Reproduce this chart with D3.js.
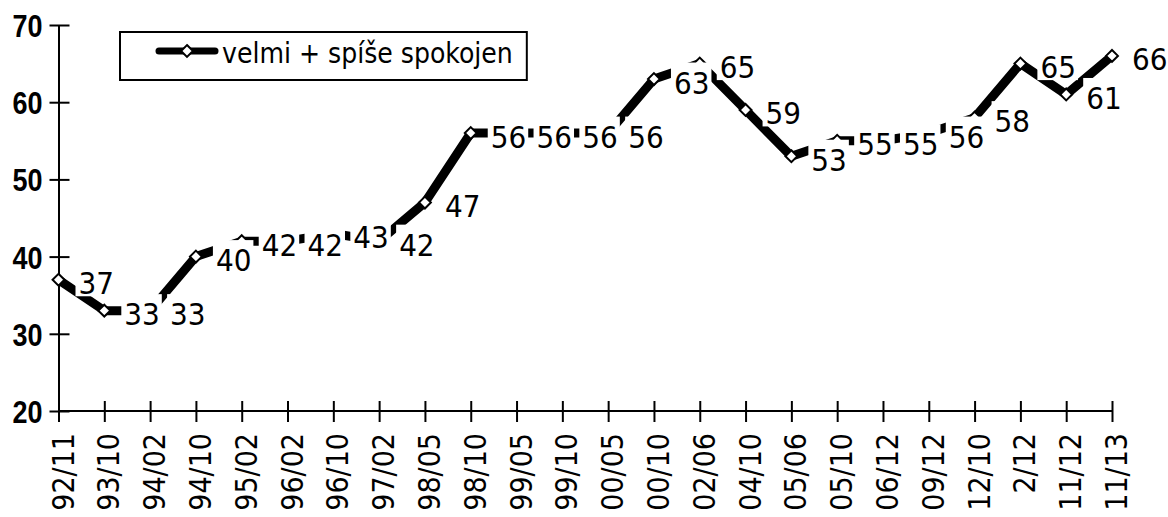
<!DOCTYPE html>
<html>
<head>
<meta charset="utf-8">
<script src="https://cdn.jsdelivr.net/npm/d3@7"></script>
<style>
  html, body { margin: 0; padding: 0; background: #fff; }
  svg { display: block; }
</style>
</head>
<body>
<svg id="chart" width="1168" height="517"></svg>
<script>
const categories = ["92/11","93/10","94/02","94/10","95/02","96/02","96/10","97/02","98/05","98/10","99/05","99/10","00/05","00/10","02/06","04/10","05/06","05/10","06/12","09/12","12/10","2/12","11/12","11/13"];
const values = [37,33,33,40,42,42,43,42,47,56,56,56,56,63,65,59,53,55,55,56,58,65,61,66];
const yTicks = [20,30,40,50,60,70];
const seriesName = "velmi + spíše spokojen";

const svg = d3.select("#chart");
const labelFont = "'DejaVu Sans Condensed', 'DejaVu Sans', sans-serif";

const x = d3.scalePoint().domain(categories).range([58.5, 1112]);
const y = d3.scaleLinear().domain([20, 70]).range([411, 25]);

// Y axis
const gy = svg.append("g").attr("transform", "translate(58.5,0)")
  .call(d3.axisLeft(y).tickValues(yTicks).tickSizeInner(9).tickSizeOuter(0).tickPadding(7).tickFormat(d3.format("d")));
gy.select(".domain").attr("stroke", "#000").attr("stroke-width", 2);
gy.selectAll(".tick line").attr("x1", 11).attr("x2", -9).attr("stroke", "#000").attr("stroke-width", 2);
gy.selectAll(".tick text")
  .attr("font-family", "'Liberation Sans', Arial, sans-serif")
  .attr("font-weight", "bold")
  .attr("font-size", 32)
  .attr("fill", "#000")
  .attr("textLength", 30)
  .attr("lengthAdjust", "spacingAndGlyphs")
  .attr("dy", "0.36em");

// X axis
const gx = svg.append("g").attr("transform", "translate(0,411)")
  .call(d3.axisBottom(x).tickSizeInner(10).tickSizeOuter(0));
gx.select(".domain").attr("stroke", "#000").attr("stroke-width", 2).attr("d", `M${x.range()[0]},0H${x.range()[1]}`);
gx.selectAll(".tick line").attr("y1", -10).attr("y2", 11).attr("stroke", "#000").attr("stroke-width", 2);
gx.selectAll(".tick text")
  .attr("font-family", labelFont)
  .attr("font-size", 30)
  .attr("fill", "#000")
  .attr("text-anchor", "end")
  .attr("transform", "rotate(-90)")
  .attr("x", -22)
  .attr("y", 14.5)
  .attr("dy", 0);

// Line
const pts = categories.map((c, i) => ({c, v: values[i]}));
svg.append("path")
  .datum(pts)
  .attr("fill", "none")
  .attr("stroke", "#000")
  .attr("stroke-width", 9)
  .attr("stroke-linejoin", "round")
  .attr("stroke-linecap", "round")
  .attr("d", d3.line().x(d => x(d.c)).y(d => y(d.v)));

// Markers
const diamond = d3.symbol().type(d3.symbolDiamond2).size(90);
svg.append("g").selectAll("path")
  .data(pts).join("path")
  .attr("transform", d => `translate(${x(d.c)},${y(d.v)})`)
  .attr("d", diamond)
  .attr("fill", "#fff")
  .attr("stroke", "#000")
  .attr("stroke-width", 2);

// Data labels with white boxes
const lg = svg.append("g");
pts.forEach(d => {
  const px = x(d.c), py = y(d.v);
  const g = lg.append("g");
  const r = g.append("rect").attr("fill", "#fff");
  const t = g.append("text")
    .attr("x", px + 20)
    .attr("y", py + 14.5)
    .attr("font-family", labelFont)
    .attr("font-size", 31)
    .attr("fill", "#000")
    .text(d.v);
  const w = t.node().getComputedTextLength();
  r.attr("x", px + 17).attr("y", py - 16.5).attr("width", w + 5).attr("height", 33);
});

// Legend
const leg = svg.append("g");
const legBox = leg.append("rect")
  .attr("x", 120).attr("y", 32).attr("height", 48)
  .attr("fill", "#fff").attr("stroke", "#000").attr("stroke-width", 2);
leg.append("line")
  .attr("x1", 159).attr("x2", 215).attr("y1", 51).attr("y2", 51)
  .attr("stroke", "#000").attr("stroke-width", 7).attr("stroke-linecap", "round");
leg.append("path")
  .attr("transform", "translate(187,51)")
  .attr("d", diamond)
  .attr("fill", "#fff").attr("stroke", "#000").attr("stroke-width", 2);
const legText = leg.append("text")
  .attr("x", 222).attr("y", 63)
  .attr("font-family", labelFont)
  .attr("font-size", 28)
  .attr("fill", "#000")
  .text(seriesName);
const lw = legText.node().getComputedTextLength();
legBox.attr("width", 222 + lw + 14 - 120);
</script>
</body>
</html>
